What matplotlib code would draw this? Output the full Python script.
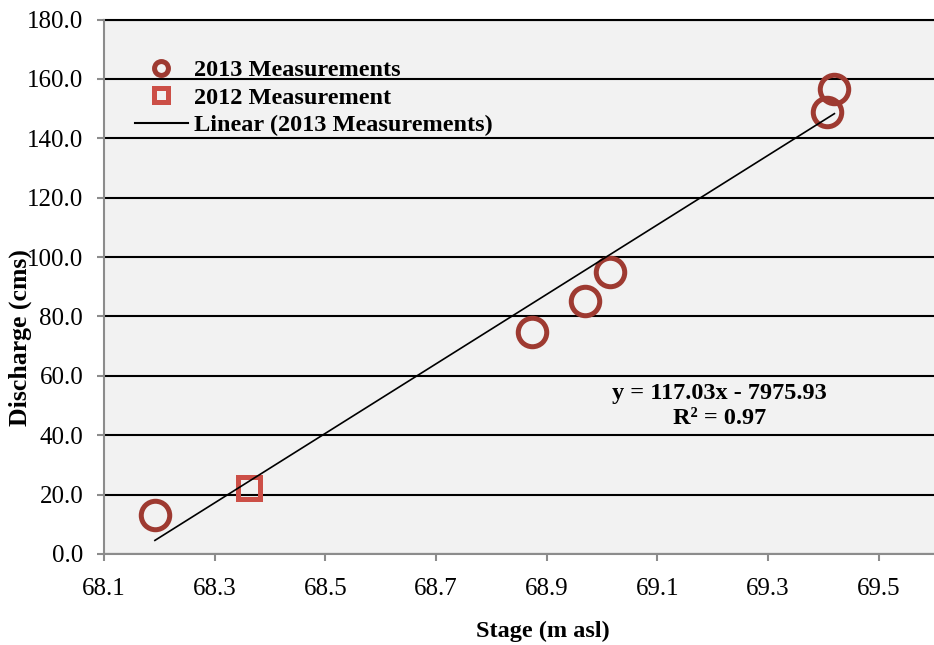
import numpy as np
import matplotlib
matplotlib.use('Agg')
import matplotlib.pyplot as plt
from matplotlib.lines import Line2D
from matplotlib.ticker import FormatStrFormatter

# Данные
stage_2013 = [68.192, 68.873, 68.970, 69.014, 69.406, 69.420]
discharge_2013 = [13.1, 74.8, 85.3, 94.8, 148.8, 156.6]
stage_2012 = [68.362]
discharge_2012 = [22.1]
slope, intercept = 117.03, -7975.93
r_squared = 0.97

x_ticks = [68.1, 68.3, 68.5, 68.7, 68.9, 69.1, 69.3, 69.5]
y_ticks = [0, 20, 40, 60, 80, 100, 120, 140, 160, 180]

plt.rcParams['font.family'] = ['Liberation Serif', 'DejaVu Serif']

circle_col = '#9e3a31'
square_col = '#cc4f47'
grey = '#8c8c8c'

W, H = 934, 645
fig = plt.figure(figsize=(W / 100, H / 100), dpi=100)
left, right, top, bottom = 104, 934, 19.5, 554
ax = fig.add_axes([left / W, 1 - bottom / H, (right - left) / W, (bottom - top) / H])
ax.set_facecolor('#f2f2f2')

ax.set_xlim(68.1, 69.6)
ax.set_ylim(0, 180)
ax.set_xticks(x_ticks)
ax.set_yticks(y_ticks)
ax.xaxis.set_major_formatter(FormatStrFormatter('%.1f'))
ax.yaxis.set_major_formatter(FormatStrFormatter('%.1f'))
ax.tick_params(axis='both', labelsize=18, color=grey, width=1.5, length=5, direction='out')
ax.tick_params(axis='y', pad=10)
ax.tick_params(axis='x', pad=12.5)

ax.yaxis.grid(True, color='black', linewidth=1.5)
ax.set_axisbelow(True)
for s in ['left', 'bottom']:
    ax.spines[s].set_color(grey)
    ax.spines[s].set_linewidth(1.5)
    ax.spines[s].set_zorder(3)
ax.spines['right'].set_visible(False)
ax.spines['top'].set_color('black')
ax.spines['top'].set_linewidth(1.5)

# точки
ax.plot(stage_2013, discharge_2013, linestyle='none', marker='o', ms=20.5,
        mfc='none', mec=circle_col, mew=3.6, zorder=4)
ax.plot(stage_2012, discharge_2012, linestyle='none', marker='s', ms=16,
        mfc='none', mec=square_col, mew=3.6, zorder=4)

# линия тренда
xs = np.array([min(stage_2013), max(stage_2013)])
ax.plot(xs, slope * xs + intercept, color='black', lw=1.2, zorder=5)

ax.text(0.742, 0.277, f'y = {slope:.2f}x - {abs(intercept):.2f}\nR² = {r_squared:.2f}',
        transform=ax.transAxes, ha='center', va='center', fontsize=17.5,
        fontweight='bold', linespacing=1.3)

handles = [
    Line2D([], [], linestyle='none', marker='o', ms=10, mfc='none', mec=circle_col, mew=3.6),
    Line2D([], [], linestyle='none', marker='s', ms=10, mfc='none', mec=square_col, mew=3.6),
    Line2D([], [], color='black', lw=1.5),
]
labels = ['2013 Measurements', '2012 Measurement', 'Linear (2013 Measurements)']
ax.legend(handles, labels, loc='upper left', bbox_to_anchor=(0.037, 0.926),
          frameon=False, prop={'weight': 'bold', 'size': 17.5}, borderpad=0,
          borderaxespad=0, handlelength=2.2, handletextpad=0.25, labelspacing=0.23)

fig.text(20 / W, 1 - 338 / H, 'Discharge (cms)', rotation=90, ha='center', va='center',
         fontsize=18.5, fontweight='bold')
fig.text(543 / W, 1 - 631 / H, 'Stage (m asl)', ha='center', va='center',
         fontsize=17.5, fontweight='bold')

fig.savefig('out.png', dpi=100)
